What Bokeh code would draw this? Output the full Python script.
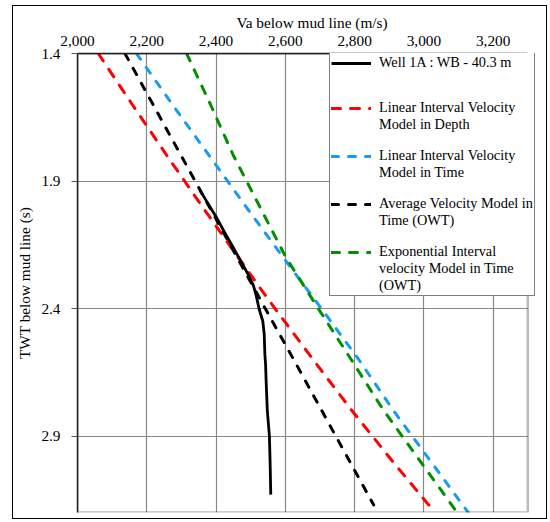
from bokeh.plotting import figure
from bokeh.models import Range1d, FixedTicker, NumeralTickFormatter, Legend, LegendItem, BoxAnnotation
from bokeh.embed import file_html
from bokeh.resources import INLINE

# TWT below mud line (s) and average velocity (m/s)
twt_well = [1.935, 1.98, 2.04, 2.10, 2.16, 2.22, 2.27, 2.31, 2.35, 2.40, 2.45, 2.50, 2.58, 2.62, 2.70, 2.80, 2.90, 3.00, 3.13]
va_well = [2353, 2373, 2400, 2424, 2449, 2474, 2494, 2508, 2516, 2524, 2535, 2539, 2541, 2543, 2545, 2548, 2554, 2556, 2558]

twt_model = [1.4, 1.6, 1.8, 2.0, 2.2, 2.4, 2.6, 2.8, 3.0, 3.2]
va_lin_depth = [2060, 2158, 2258, 2360, 2464, 2570, 2680, 2792, 2910, 3032]
va_lin_time = [2170, 2274, 2380, 2486, 2594, 2704, 2812, 2912, 3020, 3128]
va_exp_time = [2315, 2384, 2450, 2526, 2602, 2695, 2790, 2884, 2990, 3096]

twt_avg = [1.4, 1.6, 1.8, 2.0, 2.2, 2.4, 2.6, 2.8, 3.0, 3.17]
va_avg_time = [2137, 2218, 2299, 2380, 2461, 2542, 2624, 2705, 2786, 2855]

x_ticks = [2000, 2200, 2400, 2600, 2800, 3000, 3200]
y_ticks = [1.4, 1.9, 2.4, 2.9]
x_min, x_max = 2000, 3300
y_min, y_max = 1.4, 3.2

FONT = "Liberation Serif"
FS = "15.3px"
LFS = "14.3px"

# the frame reaches a little past x_max so the legend can overhang the plot box
p = figure(width=535, height=514,
           x_range=Range1d(x_min, 3354), y_range=Range1d(y_max, y_min),
           x_axis_location="above",
           output_backend="svg", toolbar_location=None,
           min_border_left=59, min_border_right=2,
           min_border_top=47, min_border_bottom=8)
p.margin = (5, 0, 0, 12)
p.styles = {"border": "1.5px solid black"}

p.outline_line_color = None
p.background_fill_color = "white"
p.border_fill_color = "white"

p.xaxis.ticker = FixedTicker(ticks=x_ticks)
p.yaxis.ticker = FixedTicker(ticks=y_ticks)
p.xaxis.formatter = NumeralTickFormatter(format="0,0")
p.xaxis.axis_label = "Va below mud line (m/s)"
p.yaxis.axis_label = "TWT below mud line (s)"
for ax in (p.xaxis, p.yaxis):
    ax.axis_label_text_font = FONT
    ax.axis_label_text_font_size = FS
    ax.axis_label_text_font_style = "normal"
    ax.axis_label_text_color = "black"
    ax.major_label_text_font = FONT
    ax.major_label_text_font_size = FS
    ax.major_label_text_color = "black"
    ax.minor_tick_line_color = None
    ax.major_tick_in = 0
    ax.axis_line_color = "#222222"
    ax.axis_line_width = 1.5
    ax.major_tick_line_color = "#555555"
p.xaxis.major_tick_out = 0
p.xaxis.major_label_standoff = 8
p.xaxis.axis_label_standoff = 2
p.xaxis.bounds = (x_min, x_max)
p.yaxis.major_tick_out = 6
p.yaxis.major_label_standoff = 11
p.yaxis.axis_label_standoff = 5

p.xgrid.grid_line_color = "#888888"
p.ygrid.grid_line_color = "#888888"
p.xgrid.grid_line_width = 1.2
p.ygrid.grid_line_width = 1.2

r_red = p.line(va_lin_depth, twt_model, line_color="#FF0000", line_width=3,
               line_dash="9 10", line_cap="round")
r_blue = p.line(va_lin_time, twt_model, line_color="#1A9BF0", line_width=3,
                line_dash="7 10", line_cap="round")
r_green = p.line(va_exp_time, twt_model, line_color="#008F00", line_width=3,
                 line_dash="8 10", line_cap="round")
r_black = p.line(va_avg_time, twt_avg, line_color="black", line_width=3,
                 line_dash="7 10", line_cap="round")
r_well = p.line(va_well, twt_well, line_color="black", line_width=2.8)
dummy = p.line([], [], line_alpha=0)

# blank out the strip right of the plot box, then draw the plot box
p.add_layout(BoxAnnotation(left=x_max, fill_color="white", fill_alpha=1.0,
                           line_alpha=0))
p.add_layout(BoxAnnotation(left=x_min, right=x_max, top=y_min, bottom=y_max,
                           fill_alpha=0, line_color="#222222", line_width=2.5))

def item(label, r):
    return LegendItem(label=label, renderers=[r])

items = [
    item("Well 1A : WB - 40.3 m", r_well),
    item(" ", dummy), item(" ", dummy),
    item("Linear Interval Velocity", r_red),
    item("Model in Depth", dummy),
    item(" ", dummy),
    item("Linear Interval Velocity", r_blue),
    item("Model in Time", dummy),
    item(" ", dummy),
    item("Average Velocity Model in", r_black),
    item("Time (OWT)", dummy),
    item(" ", dummy),
    item("Exponential Interval", r_green),
    item("velocity Model in Time", dummy),
    item("(OWT)", dummy),
]
legend = Legend(items=items, location=(252, 216),
                label_text_font=FONT, label_text_font_size=LFS,
                label_text_color="black",
                label_height=14, glyph_height=14, glyph_width=40,
                label_standoff=8, spacing=0, padding=1, margin=0,
                border_line_color="black", border_line_width=1.5,
                background_fill_color="white", background_fill_alpha=1.0)
p.add_layout(legend, "center")

open("out.html", "w").write(file_html(p, INLINE))
